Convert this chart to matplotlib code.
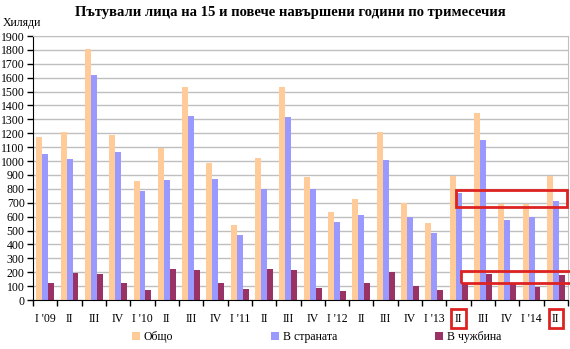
import matplotlib
matplotlib.use("Agg")
from matplotlib import pyplot as plt
from matplotlib.patches import Rectangle
import numpy as np

plt.rcParams['font.family'] = ['Liberation Serif', 'DejaVu Serif']

# quarters 2009 - 2014 (thousands)
quarters = ["I '09", "II", "III", "IV", "I '10", "II", "III", "IV",
            "I '11", "II", "III", "IV", "I '12", "II", "III", "IV",
            "I '13", "II", "III", "IV", "I '14", "II"]
total = [1173, 1212, 1804, 1185, 857, 1091, 1531, 988, 540, 1019, 1531, 886,
         634, 727, 1212, 701, 555, 894, 1348, 693, 693, 894]
domestic = [1048, 1017, 1622, 1063, 785, 864, 1322, 871, 468, 797, 1315, 797,
            562, 612, 1010, 600, 483, 772, 1154, 576, 600, 714]
abroad = [122, 197, 187, 122, 72, 223, 216, 122, 79, 223, 216, 86,
          65, 122, 202, 101, 74, 124, 190, 115, 96, 180]
series_names = ["Общо", "В страната", "В чужбина"]
colors = ["#FFCC99", "#9999FF", "#993366"]
boxed_ticks = [17, 21]

fig = plt.figure(figsize=(5.7, 3.49), dpi=100)
ax = fig.add_axes([0.058, 0.1404, 0.9385, 0.7564])

x = np.arange(len(quarters))
w = 0.245
for k, vals in enumerate([total, domestic, abroad]):
    ax.bar(x + (k - 1) * w, vals, w, color=colors[k], label=series_names[k],
           zorder=2, linewidth=0)

ax.set_xlim(-0.5, len(quarters) - 0.5)
ax.set_ylim(0, 1900)
ax.set_yticks(np.arange(0, 2000, 100))
ax.yaxis.grid(True, color="#BFBFBF", linewidth=1, zorder=0)
ax.tick_params(axis='y', labelsize=8.5, length=4, width=1, pad=2)

# category boundaries as ticks, labels on the centres
ax.set_xticks(np.arange(-0.5, len(quarters), 1))
ax.set_xticklabels([])
ax.set_xticks(x, minor=True)
ax.set_xticklabels(quarters, minor=True, fontsize=8.5)
ax.tick_params(axis='x', which='major', length=4, width=1)
ax.tick_params(axis='x', which='minor', length=0, pad=9)

for s in ['top', 'right']:
    ax.spines[s].set_color("#BFBFBF")
for s in ['left', 'bottom']:
    ax.spines[s].set_color("black")

# red highlight boxes
for i in boxed_ticks:
    lab = ax.get_xticklabels(minor=True)[i]
    lab.set_bbox(dict(boxstyle='square,pad=0.3', facecolor='none',
                      edgecolor='#DD2222', linewidth=2))
ax.add_patch(Rectangle((16.9, 669), 4.55, 122, fill=False, edgecolor='#DD2222',
                       linewidth=2, clip_on=False, zorder=5))
ax.add_patch(Rectangle((17.1, 122), 4.55, 88, fill=False, edgecolor='#DD2222',
                       linewidth=2, clip_on=False, zorder=5))

fig.text(0.51, 0.965, "Пътували лица на 15 и повече навършени години по тримесечия",
         ha='center', va='center', fontsize=10.5, fontweight='bold')
fig.text(0.005, 0.935, "Хиляди", ha='left', va='center', fontsize=8.5)

fig.legend(loc='center', bbox_to_anchor=(0.555, 0.033), ncol=3, frameon=False,
           fontsize=8.5, handlelength=0.7, handleheight=0.7, handletextpad=0.3,
           columnspacing=8.3)

fig.savefig("out.png", dpi=100)
